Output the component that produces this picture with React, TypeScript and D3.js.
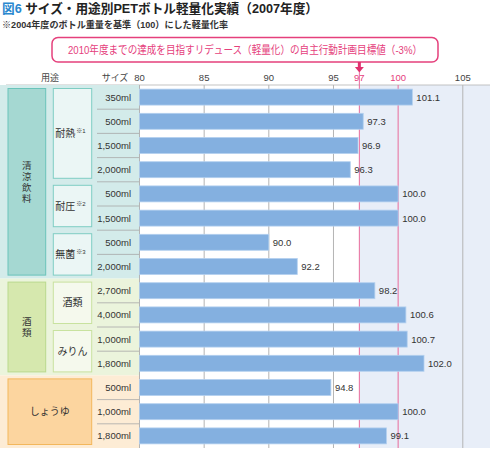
import * as d3 from 'd3';

// サイズ別の行（上から順に）
const sizes = ['350ml', '500ml', '1,500ml', '2,000ml', '500ml', '1,500ml', '500ml', '2,000ml', '2,700ml', '4,000ml', '1,000ml', '1,800ml', '500ml', '1,000ml', '1,800ml'];
const values = [101.1, 97.3, 96.9, 96.3, 100.0, 100.0, 90.0, 92.2, 98.2, 100.6, 100.7, 102.0, 94.8, 100.0, 99.1];

// 用途（大分類）: 名前, 行数
const useNames = ['清涼飲料', '酒類', 'しょうゆ'];
const useCounts = [8, 4, 3];

// 用途（小分類）: 名前, 注記, 行数
const subNames = ['耐熱', '耐圧', '無菌', '酒類', 'みりん', ''];
const subNotes = ['※1', '※2', '※3', '', '', ''];
const subCounts = [4, 2, 2, 2, 2, 3];

const ticks = [80, 85, 90, 95, 97, 100, 105];
const targetTicks = [97, 100];

const W = 490;
const H = 451;
const FONT = "'Liberation Sans', 'Noto Sans CJK JP', sans-serif";

const themes = [
  { bg: '#d3ebea', fill: '#a5d8d2', stroke: '#6ac4ba', subFill: '#ebf6f5', subStroke: '#7fcdc3' },
  { bg: '#ebf4dc', fill: '#d6e8ae', stroke: '#bad98c', subFill: '#f5f9ed', subStroke: '#c8e29f' },
  { bg: '#fdecd5', fill: '#fcd59f', stroke: '#f3b75c', subFill: '#fcd59f', subStroke: '#f3b75c' },
];

const App = () => {
  const x = d3.scaleLinear().domain([80, 105]).range([139.5, 462.8]);
  const y = d3.scaleBand<number>()
    .domain(d3.range(values.length))
    .range([85, 448])
    .paddingInner(0.34)
    .paddingOuter(0.17);
  const step = y.step();
  const rowTop = (i: number) => (y(i) as number) - step * 0.17;
  const rowBottom = (i: number) => rowTop(i) + step;
  const top = rowTop(0);
  const bottom = rowBottom(values.length - 1);

  // section ranges
  const useStarts = useCounts.map((_, i) => d3.sum(useCounts.slice(0, i)));
  const subStarts = subCounts.map((_, i) => d3.sum(subCounts.slice(0, i)));
  const sectionOf = (row: number) => useStarts.filter(s => s <= row).length - 1;

  const pink = '#e5407c';

  return (
    <svg width={W} height={H} style={{ position: 'absolute', left: 0, top: 0, background: '#fff' }} fontFamily={FONT}>
      {/* タイトル */}
      <text x={2} y={13} fontSize={13} fontWeight="bold" fill="#222" textLength={316} lengthAdjust="spacingAndGlyphs">
        <tspan fill="#2a88cf">図6</tspan> サイズ・用途別PETボトル軽量化実績（2007年度）
      </text>
      <text x={2} y={27.5} fontSize={9.5} fontWeight="bold" fill="#333" textLength={226} lengthAdjust="spacingAndGlyphs">
        ※2004年度のボトル重量を基準（100）にした軽量化率
      </text>

      {/* 目標値の吹き出し */}
      <rect x={52} y={37.5} width={386} height={24.5} rx={6} fill="#fff" stroke={pink} strokeWidth={1.5} />
      <text x={245} y={54} textAnchor="middle" fontSize={11} fill={pink} textLength={354} lengthAdjust="spacingAndGlyphs">
        2010年度までの達成を目指すリデュース（軽量化）の自主行動計画目標値（-3%）
      </text>
      <rect x={x(97) - 1.5} y={62} width={3} height={6} fill="#e0306e" />
      <path d={`M${x(97) - 4.5},67 L${x(97) + 4.5},67 L${x(97)},72.5 Z`} fill="#e0306e" />

      {/* 目標以上の網掛け */}
      <rect x={x(97)} y={top} width={W - x(97)} height={bottom - top} fill="#e8eef8" />

      {/* 軸ラベル */}
      {ticks.map(t => (
        <text key={t} x={x(t)} y={81} textAnchor="middle" fontSize={9.5}
          fill={targetTicks.includes(t) ? pink : '#444'}>{t}</text>
      ))}
      <text x={50} y={81} textAnchor="middle" fontSize={9} fill="#444">用途</text>
      <text x={115} y={81} textAnchor="middle" fontSize={9} fill="#444">サイズ</text>
      <line x1={6} x2={W} y1={85} y2={85} stroke="#b4b4b4" strokeWidth={0.8} />

      {/* 用途の背景 */}
      {useNames.map((name, i) => {
        const y0 = rowTop(useStarts[i]);
        const y1 = rowBottom(useStarts[i] + useCounts[i] - 1);
        return <rect key={name + i} x={0} y={y0} width={139} height={y1 - y0} fill={themes[i].bg} />;
      })}

      {/* 行の区切り */}
      {values.slice(1).map((_, k) => {
        const i = k + 1;
        if (sectionOf(i) !== sectionOf(i - 1)) return null;
        return <line key={'sep' + i} x1={97} x2={139} y1={rowTop(i)} y2={rowTop(i)} stroke="#a8a8a8" strokeWidth={0.8} />;
      })}

      {/* 大分類の箱 */}
      {useNames.map((name, i) => {
        const y0 = rowTop(useStarts[i]) + 3.5;
        const y1 = rowBottom(useStarts[i] + useCounts[i] - 1) - 3.5;
        const wide = i === 2;
        const bx1 = wide ? 91.7 : 45.7;
        const cy = (y0 + y1) / 2;
        const chars = Array.from(name);
        return (
          <g key={'use' + i}>
            <rect x={8} y={y0} width={bx1 - 8} height={y1 - y0} fill={themes[i].fill} stroke={themes[i].stroke} strokeWidth={1} />
            {wide ? (
              <text x={(8 + bx1) / 2} y={cy + 3.5} textAnchor="middle" fontSize={10} fill="#333">{name}</text>
            ) : (
              chars.map((c, k) => (
                <text key={k} x={(8 + bx1) / 2} y={cy + (k - (chars.length - 1) / 2) * 11 + 3.5}
                  textAnchor="middle" fontSize={9.5} fill="#333">{c}</text>
              ))
            )}
          </g>
        );
      })}

      {/* 小分類の箱 */}
      {subNames.map((name, i) => {
        if (!name) return null;
        const y0 = rowTop(subStarts[i]) + 3.5;
        const y1 = rowBottom(subStarts[i] + subCounts[i] - 1) - 3.5;
        const th = themes[sectionOf(subStarts[i])];
        return (
          <g key={'sub' + i}>
            <rect x={53.3} y={y0} width={38.4} height={y1 - y0} fill={th.subFill} stroke={th.subStroke} strokeWidth={1} />
            <text x={subNotes[i] ? 70.5 : 72.5} y={(y0 + y1) / 2 + 3.5} textAnchor="middle" fontSize={10} fill="#333">
              {name}
              {subNotes[i] && <tspan fontSize={6} dy={-4} dx={1}>{subNotes[i]}</tspan>}
            </text>
          </g>
        );
      })}

      {/* サイズ */}
      {sizes.map((s, i) => (
        <text key={'size' + i} x={131} y={(y(i) as number) + y.bandwidth() / 2 + 3.5} textAnchor="end" fontSize={9.5} fill="#333">{s}</text>
      ))}

      {/* 目盛線 */}
      {ticks.map(t => (
        <line key={'g' + t} x1={x(t)} x2={x(t)} y1={t === 97 ? 72 : 85} y2={bottom}
          stroke={targetTicks.includes(t) ? '#e86b9b' : '#b4b4b4'} strokeWidth={1} />
      ))}

      {/* 棒 */}
      {values.map((v, i) => (
        <rect key={'bar' + i} x={x(80)} y={y(i)} width={x(v) - x(80)} height={y.bandwidth()}
          fill="#84b0e0" stroke="#b3d0ef" strokeWidth={0.8} />
      ))}
      {values.map((v, i) => (
        <text key={'val' + i} x={x(v) + 4} y={(y(i) as number) + y.bandwidth() / 2 + 3.5} fontSize={9.5} fill="#333">
          {v.toFixed(1)}
        </text>
      ))}
    </svg>
  );
};

export default App;
